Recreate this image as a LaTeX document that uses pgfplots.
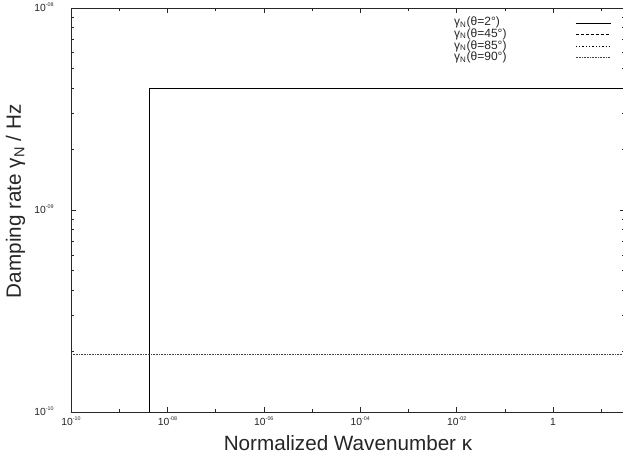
\documentclass[border=0pt]{standalone}
\usepackage{pgfplots}
\pgfplotsset{compat=1.18}
\usepackage{fontspec}
\setmainfont{Liberation Sans}
% power-of-ten tick label with a tiny raised exponent
\newcommand{\pw}[1]{10\smash{\raisebox{0.85ex}{\fontsize{4}{4}\selectfont #1}}}

\begin{document}
\begin{tikzpicture}
\begin{axis}[
  scale only axis, width=415.5pt, height=303pt,
  xmode=log, ymode=log,
  xmin=1e-10, xmax=31, ymin=1e-10, ymax=1e-8,
  axis line style={line width=0.6pt, black!85},
  every tick/.style={black!85, line width=0.5pt},
  major tick length=3.5pt, minor tick length=2pt,
  xtick={1e-10,1e-8,1e-6,1e-4,1e-2,1},
  xticklabels={\pw{-10},\pw{-08},\pw{-06},\pw{-04},\pw{-02},1},
  minor xtick={1e-9,1e-7,1e-5,1e-3,1e-1,10},
  ytick={1e-10,1e-9,1e-8},
  yticklabels={\pw{-10},\pw{-09},\pw{-08}},
  minor ytick={2e-10,3e-10,4e-10,5e-10,6e-10,7e-10,8e-10,9e-10,
               2e-9,3e-9,4e-9,5e-9,6e-9,7e-9,8e-9,9e-9},
  tick label style={font=\fontsize{7.75}{8}\selectfont, text=black!85},
  yticklabel style={xshift=-9.5pt},
  xticklabel style={yshift=-1pt},
  xlabel={Normalized Wavenumber κ},
  ylabel={Damping rate γ\textsubscript{N} / Hz},
  every axis x label/.style={at={(axis description cs:0.5,-0.0767)}, anchor=center,
    font=\fontsize{15.5}{18}\selectfont, text=black!85},
  every axis y label/.style={at={(axis description cs:-0.1,0.522)}, anchor=center,
    rotate=90, font=\fontsize{15.5}{18}\selectfont, text=black!85},
  legend style={draw=none, fill=none, at={(axis description cs:0.6913,0.9777)},
    anchor=north west, inner sep=0pt, row sep=0pt, column sep=0pt,
    font=\fontsize{9}{9}\selectfont,
    nodes={inner sep=0pt, text height=6.5pt, text depth=2.2pt, text=black!85}},
  legend cell align=left,
  legend plot pos=right,
  legend image code/.code={\draw[#1] (0pt,0pt) -- (26.25pt,0pt);},
]
\addplot[black, line width=0.6pt] coordinates {(4.2e-9,1e-10) (4.2e-9,4.0e-9) (31,4.0e-9)};
\addlegendentry{\makebox[90.75pt][l]{γ\textsubscript{N}(θ=2°)}}
\addplot[black, line width=0.6pt, dash pattern=on 2.25pt off 1.5pt] coordinates {(4.2e-9,1e-10) (4.2e-9,4.0e-9) (31,4.0e-9)};
\addlegendentry{\makebox[90.75pt][l]{γ\textsubscript{N}(θ=45°)}}
\addplot[black, line width=0.6pt, dash pattern=on 1pt off 1.5pt] coordinates {(4.2e-9,1e-10) (4.2e-9,4.0e-9) (31,4.0e-9)};
\addlegendentry{\makebox[90.75pt][l]{γ\textsubscript{N}(θ=85°)}}
\addplot[black!75, line width=0.6pt, dash pattern=on 0.6pt off 0.6pt] coordinates {(1e-10,1.93e-10) (31,1.93e-10)};
\addlegendentry{\makebox[90.75pt][l]{γ\textsubscript{N}(θ=90°)}}
\coordinate (SW) at (rel axis cs:0,0);
\coordinate (NE) at (rel axis cs:1,1);
\end{axis}
\pgfresetboundingbox
\path[use as bounding box] ([shift={(-53.25pt,-38.25pt)}]SW) rectangle ([shift={(-1.5pt,6pt)}]NE);
\end{tikzpicture}
\end{document}
